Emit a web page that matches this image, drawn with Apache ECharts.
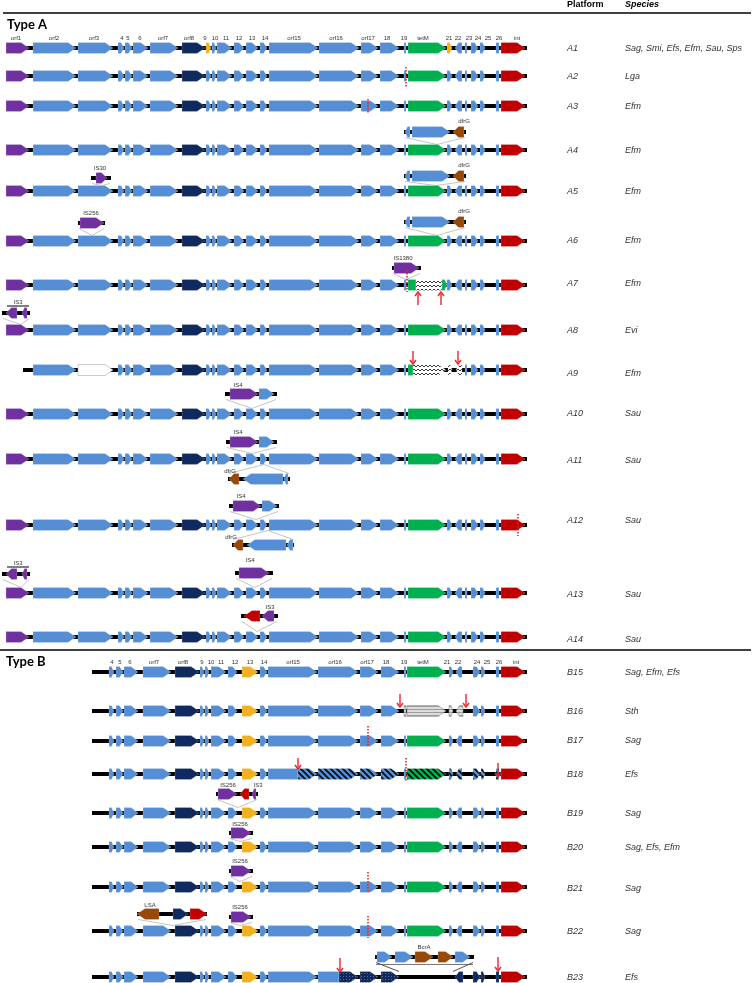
<!DOCTYPE html>
<html><head><meta charset="utf-8">
<script src="https://cdn.jsdelivr.net/npm/echarts@6/dist/echarts.min.js"></script>
<style>html,body{margin:0;padding:0;background:#fff}#c{width:754px;height:983px}</style>
</head><body><div id="c"></div>
<script>
// ---------------- DATA ----------------
const platforms = ['A1','A2','A3','A4','A5','A6','A7','A8','A9','A10','A11','A12','A13','A14',
  'B15','B16','B17','B18','B19','B20','B21','B22','B23'];
const speciesList = ['Sag, Smi, Efs, Efm, Sau, Sps','Lga','Efm','Efm','Efm','Efm','Efm','Evi','Efm','Sau','Sau','Sau','Sau','Sau',
  'Sag, Efm, Efs','Sth','Sag','Efs','Sag','Sag, Efs, Efm','Sag','Sag','Efs'];
const rowLevel   = [48,76,106,150,191,241,285,330,370,414,459,525,593,637,672,711,741,774,813,847,887,931,977];
const labelLevel = [48,76,106,150,191,240,283,330,373,413,460,520,594,639,672,711,740,774,813,847,888,931,977];
const backboneFrom = [6,6,6,6,6,6,6,6,23,6,6,6,6,6,92,92,92,92,92,92,92,92,92];
const backboneTo = 527;

// gene layouts: [name, from, to, fill]  (to < from = reverse strand)
const layoutA = [
  ['orf1',6,29,'purple'],['orf2',33,76,'blue'],['orf3',78,113,'blue'],['4',118,124,'blue'],['5',125,132,'blue'],
  ['6',133,148,'blue'],['orf7',150,178,'blue'],['orf8',182,205,'navy'],['9',206,211,'blue'],['10',212,216,'blue'],
  ['11',217,232,'blue'],['12',234,244,'blue'],['13',246,258,'blue'],['14',260,267,'blue'],['orf15',269,318,'blue'],
  ['orf16',319,359,'blue'],['orf17',361,378,'blue'],['18',380,399,'blue'],['19',404,406,'blue'],['tetM',408,446,'green'],
  ['21',447,452,'blue'],['22',462,455,'blue'],['23',465,467,'blue'],['24',471,478,'blue'],['25',480,485,'blue'],
  ['26',496,499,'blue'],['int',501,525,'red']
];
const layoutB = [
  ['4',109,114,'blue'],['5',116,123,'blue'],['6',124,138,'blue'],['orf7',143,171,'blue'],['orf8',175,199,'navy'],
  ['9',200,204,'blue'],['10',205,209,'blue'],['11',211,226,'blue'],['12',228,237,'blue'],['13',242,258,'orange'],
  ['14',260,267,'blue'],['orf15',268,317,'blue'],['orf16',318,358,'blue'],['orf17',360,378,'blue'],['18',381,399,'blue'],
  ['19',404,406,'blue'],['tetM',407,446,'green'],['21',449,453,'blue'],['22',462,456,'blue'],['24',473,480,'blue'],
  ['25',481,485,'blue'],['26',496,499,'blue'],['int',501,525,'red']
];
const headerLabelsA = [['orf1',16],['orf2',54],['orf3',94],['4',122],['5',128],['6',140],['orf7',163],['orf8',189],['9',205],
  ['10',215],['11',226],['12',239],['13',252],['14',265],['orf15',294],['orf16',336],['orf17',368],['18',387],['19',404],
  ['tetM',423],['21',449],['22',458],['23',469],['24',478],['25',488],['26',499],['int',517]];
const headerLabelsB = [['4',112],['5',120],['6',130],['orf7',154],['orf8',183],['9',202],['10',211],['11',221],['12',235],
  ['13',250],['14',264],['orf15',293],['orf16',335],['orf17',367],['18',386],['19',404],['tetM',423],['21',447],['22',458],
  ['24',477],['25',487],['26',499],['int',516]];

const recolor = { A1: {'9':'orange','21':'orange'} };
// replaced genes: name -> list of [from, to, fill, kind]
const replaced = {
  A7: { tetM: [[408,416,'green','box'],[416,442,'zigzag','box'],[442,447,'green','arrow']] },
  A9: { orf1: [], orf3: [[78,113,'empty','arrow']],
        tetM: [[408,413,'green','box'],[413,446,'zigzag','arrow']],
        '21': [[448,452,'zigzag','arrow']], '22': [[462,456,'zigzag','arrow']] },
  B16: { '19': [[404,406,'grey','box']], tetM: [[407,446,'grey','arrow']],
         '21': [[449,453,'grey','arrow']], '22': [[463,456,'grey','arrow']] },
  B18: { orf15: [[268,298,'blue','box'],[298,317,'hatchBlue','arrow']], orf16: [[318,358,'hatchBlue','arrow']],
         orf17: [[360,378,'hatchBlue','arrow']], '18': [[381,399,'hatchBlue','arrow']], tetM: [[407,446,'hatchGreen','arrow']],
         '21': [[449,453,'hatchBlue','arrow']], '22': [[462,456,'hatchBlue','arrow']], '24': [[473,480,'hatchBlue','arrow']],
         '25': [[481,485,'hatchBlue','arrow']], '26': [[496,499,'hatchBlue','box']] },
  B23: { orf16: [[318,339,'blue','box'],[339,358,'navyDots','arrow']], orf17: [[360,378,'navyDots','arrow']],
         '18': [[381,399,'navyDots','arrow']], '19': [], tetM: [], '21': [],
         '22': [[463,455,'navy','arrow']], '24': [[473,480,'navy','arrow']], '25': [[481,485,'navy','arrow']],
         '26': [[496,499,'navy','box']] }
};

const dfrGGenes = [[410,405,'blue'],[412,450,'blue'],[464,453,'brown']];
const insertions = [
  {row:'A4', level:132, span:[404,466], site:[437], genes:dfrGGenes, labels:[['dfrG',464,-11]]},
  {row:'A5', level:176, span:[404,466], site:[436], genes:dfrGGenes, labels:[['dfrG',464,-11]]},
  {row:'A5', level:178, span:[91,111], site:[102], genes:[[96,107,'purple']], labels:[['IS30',100,-10]]},
  {row:'A6', level:222, span:[404,466], site:[437], genes:dfrGGenes, labels:[['dfrG',464,-11]]},
  {row:'A6', level:223, span:[78,105], site:[92], genes:[[80,104,'purple']], labels:[['IS256',91,-10]]},
  {row:'A7', level:268, span:[392,421], site:[406], genes:[[394,419,'purple']], labels:[['IS1380',403,-10]]},
  {row:'A8', level:313, span:[2,30], site:[21], genes:[[17,6,'purple'],[27,22,'purple']], labels:[['IS3',18,-11]], bar:[7,29]},
  {row:'A10', level:394, span:[225,277], site:[252], genes:[[230,258,'purple'],[259,274,'blue']], labels:[['IS4',238,-9]]},
  {row:'A11', level:442, span:[226,277], site:[252], genes:[[230,258,'purple'],[259,274,'blue']], labels:[['IS4',238,-10]]},
  {row:'A11', level:479, span:[228,290], site:[264], below:true, genes:[[239,229,'brown'],[283,243,'blue'],[288,284,'blue']], labels:[['dfrG',230,-8]]},
  {row:'A12', level:506, span:[229,279], site:[256], genes:[[233,261,'purple'],[262,277,'blue']], labels:[['IS4',241,-10]]},
  {row:'A12', level:545, span:[232,294], site:[268], below:true, genes:[[243,233,'brown'],[286,247,'blue'],[293,287,'blue']], labels:[['dfrG',231,-8]]},
  {row:'A13', level:574, span:[2,30], site:[21], genes:[[17,6,'purple'],[27,22,'purple']], labels:[['IS3',18,-11]], bar:[7,29]},
  {row:'A13', level:573, span:[235,273], site:[255], genes:[[239,269,'purple']], labels:[['IS4',250,-13]]},
  {row:'A14', level:616, span:[241,278], site:[257], genes:[[260,244,'red'],[274,262,'purple']], labels:[['IS3',270,-9]]},
  {row:'B19', level:794, span:[216,258], site:[238], genes:[[218,237,'purple'],[249,240,'red'],[256,252,'purple']], labels:[['IS256',228,-9],['IS3',258,-9]]},
  {row:'B20', level:833, span:[229,253], site:[240], genes:[[231,251,'purple']], labels:[['IS256',240,-9]]},
  {row:'B21', level:871, span:[229,253], site:[240], genes:[[231,251,'purple']], labels:[['IS256',240,-10]]},
  {row:'B22', level:914, span:[137,207], site:[173], genes:[[159,137,'brown'],[173,188,'navy'],[190,207,'red']], labels:[['LSA',150,-9]]},
  {row:'B22', level:917, span:[229,253], site:[240], genes:[[231,251,'purple']], labels:[['IS256',240,-10]]},
  {row:'B23', level:957, span:[375,474], site:[399,453], dark:true, genes:[[377,392,'blue'],[395,413,'blue'],[415,433,'brown'],[438,453,'brown'],[455,470,'blue']], labels:[['BcrA',424,-10]]}
];
// red dotted breakpoints: [x, yTop, yBottom]
const redDotted = [[406,67,87],[368,99,113],[407,270,292],[518,514,536],[368,726,747],[406,758,781],[368,872,893],[368,916,938]];
// red arrows: [x, yTail, yHead]
const redArrows = [[418,305,292],[441,305,292],[413,351,364],[458,351,364],[400,694,707],[466,694,707],
  [298,758,769],[498,763,777],[340,958,972],[498,957,971]];

// ---------------- STYLE ----------------
function pattern(w, h, bg, draw) {
  const c = document.createElement('canvas'); c.width = w; c.height = h;
  const x = c.getContext('2d'); x.fillStyle = bg; x.fillRect(0, 0, w, h); draw(x);
  return { image: c, repeat: 'repeat' };
}
const FILL = {
  blue:'#558ED5', navy:'#0F2A5E', purple:'#7030A0', green:'#00B050', red:'#C00000',
  orange:'#F0B020', brown:'#984807', empty:'#ffffff',
  zigzag: pattern(4, 4, '#ffffff', x => { x.strokeStyle = '#222'; x.lineWidth = 0.9; x.beginPath();
    x.moveTo(0, 3); x.lineTo(2, 1); x.lineTo(4, 3); x.stroke(); }),
  hatchBlue: pattern(6, 6, '#558ED5', x => { x.strokeStyle = '#0a0a0a'; x.lineWidth = 1.7; x.beginPath();
    x.moveTo(0, 0); x.lineTo(6, 6); x.moveTo(-1, 5); x.lineTo(1, 7); x.moveTo(5, -1); x.lineTo(7, 1); x.stroke(); }),
  hatchGreen: pattern(6, 6, '#00B050', x => { x.strokeStyle = '#0a0a0a'; x.lineWidth = 1.7; x.beginPath();
    x.moveTo(0, 0); x.lineTo(6, 6); x.moveTo(-1, 5); x.lineTo(1, 7); x.moveTo(5, -1); x.lineTo(7, 1); x.stroke(); }),
  grey: pattern(3, 3, '#dcdcdc', x => { x.fillStyle = '#9c9c9c'; x.fillRect(0, 1, 3, 1); }),
  navyDots: pattern(3, 3, '#10295A', x => { x.fillStyle = '#4F6E9E'; x.fillRect(1, 1, 1, 1); })
};
const STROKE = { empty:'#aaaaaa', grey:'#8c8c8c' };
const H = 5.5;
const FONT = '"Liberation Sans", Arial, sans-serif';

// ---------------- BUILD MARKS ----------------
const geneMarks = [], bbMarks = [], connMarks = [], textMarks = [];
platforms.forEach((p, i) => {
  const y = rowLevel[i];
  bbMarks.push([backboneFrom[i], backboneTo, y]);
  const base = p[0] === 'A' ? layoutA : layoutB;
  const rc = recolor[p] || {}, rp = replaced[p] || {};
  base.forEach(([gn, from, to, fill]) => {
    if (rp[gn]) { rp[gn].forEach(([f, t, fi, k]) => geneMarks.push({ from: f, to: t, y, fill: fi, kind: k })); return; }
    geneMarks.push({ from, to, y, fill: rc[gn] || fill, kind: Math.abs(to - from) <= 3 ? 'box' : 'arrow' });
  });
  textMarks.push({ t: p, x: 567, y: labelLevel[i], font: 'italic 9px ' + FONT, align: 'left' });
  textMarks.push({ t: speciesList[i], x: 625, y: labelLevel[i], font: 'italic 9px ' + FONT, align: 'left' });
});
insertions.forEach(ins => {
  const ri = platforms.indexOf(ins.row), ry = rowLevel[ri];
  bbMarks.push([ins.span[0], ins.span[1], ins.level]);
  ins.genes.forEach(([f, t, fi]) => geneMarks.push({ from: f, to: t, y: ins.level, fill: fi, kind: Math.abs(t - f) <= 3 ? 'box' : 'arrow' }));
  ins.labels.forEach(([t, x, dy]) => textMarks.push({ t, x, y: ins.level + dy, font: '6px ' + FONT, align: 'center' }));
  connMarks.push({ ins, ry });
});
headerLabelsA.forEach(([t, x]) => textMarks.push({ t, x, y: 38, font: '6px ' + FONT, align: 'center' }));
headerLabelsB.forEach(([t, x]) => textMarks.push({ t, x, y: 662, font: '6px ' + FONT, align: 'center' }));
textMarks.push({ t: 'Type A', x: 7, y: 25, font: 'bold 13px Lato, ' + FONT, align: 'left', color: '#000' });
textMarks.push({ t: 'Type B', x: 6, y: 662, font: 'bold 13px Lato, ' + FONT, align: 'left', color: '#000' });
textMarks.push({ t: 'Platform', x: 567, y: 5, font: 'bold 9px ' + FONT, align: 'left', color: '#000' });
textMarks.push({ t: 'Species', x: 625, y: 5, font: 'bold italic 9px ' + FONT, align: 'left', color: '#000' });

function genePoints(x1, x2, yc, kind) {
  const rev = x2 < x1, a = Math.min(x1, x2), b = Math.max(x1, x2), len = b - a;
  if (kind === 'box' || len < 3.5) return [[a, yc - H], [b, yc - H], [b, yc + H], [a, yc + H]];
  const head = Math.min(8, len * 0.5);
  if (!rev) return [[a, yc - H], [b - head, yc - H], [b, yc], [b - head, yc + H], [a, yc + H]];
  return [[b, yc - H], [a + head, yc - H], [a, yc], [a + head, yc + H], [b, yc + H]];
}

const chart = echarts.init(document.getElementById('c'), null, { renderer: 'canvas' });
const common = { type: 'custom', coordinateSystem: 'cartesian2d', clip: false, progressive: 0, silent: true, animation: false };
chart.setOption({
  animation: false,
  grid: { left: 0, right: 0, top: 0, bottom: 0 },
  xAxis: { type: 'value', min: 0, max: 754, show: false },
  yAxis: { type: 'value', min: 0, max: 983, inverse: true, show: false },
  series: [
    // section rules
    Object.assign({}, common, { data: [[0, 13], [0, 650]], renderItem: (p, api) => {
      const a = api.coord([p.dataIndex === 0 ? 3 : 0, api.value(1)]), b = api.coord([751, api.value(1)]);
      return { type: 'line', shape: { x1: a[0], y1: a[1], x2: b[0], y2: b[1] }, style: { stroke: '#000', lineWidth: 1.6 } };
    } }),
    // connectors
    Object.assign({}, common, { data: connMarks.map(c => [c.ins.span[0], c.ins.level]), renderItem: (p, api) => {
      const { ins, ry } = connMarks[p.dataIndex];
      const col = ins.dark ? '#222' : '#b5b5b5';
      const yI = ins.below ? ins.level - H : ins.level + H;
      const yR = ins.below ? ry + H : ry - H;
      const s0 = ins.site[0], s1 = ins.site[ins.site.length - 1];
      const L0 = api.coord([ins.span[0] + 1, yI]), L1 = api.coord([s0, yR]);
      const R0 = api.coord([ins.span[1] - 1, yI]), R1 = api.coord([s1, yR]);
      const ch = [
        { type: 'line', shape: { x1: L0[0], y1: L0[1], x2: L1[0], y2: L1[1] }, style: { stroke: col, lineWidth: 0.8 } },
        { type: 'line', shape: { x1: R0[0], y1: R0[1], x2: R1[0], y2: R1[1] }, style: { stroke: col, lineWidth: 0.8 } }
      ];
      if (ins.dark) ch.push({ type: 'line', shape: { x1: L0[0], y1: L0[1] + 2, x2: R0[0], y2: R0[1] + 2 }, style: { stroke: '#555', lineWidth: 0.8 } });
      if (ins.bar) {
        const b0 = api.coord([ins.bar[0], ins.level - 7]), b1 = api.coord([ins.bar[1], ins.level - 7]);
        ch.push({ type: 'line', shape: { x1: b0[0], y1: b0[1], x2: b1[0], y2: b1[1] }, style: { stroke: '#000', lineWidth: 1 } });
      }
      return { type: 'group', children: ch };
    } }),
    // backbones
    Object.assign({}, common, { data: bbMarks, renderItem: (p, api) => {
      const a = api.coord([api.value(0), api.value(2)]), b = api.coord([api.value(1), api.value(2)]);
      return { type: 'rect', shape: { x: a[0], y: a[1] - 2, width: b[0] - a[0], height: 4 }, style: { fill: '#000' } };
    } }),
    // genes
    Object.assign({}, common, { data: geneMarks.map(g => [g.from, g.y]), renderItem: (p, api) => {
      const g = geneMarks[p.dataIndex];
      const a = api.coord([g.from, g.y]), b = api.coord([g.to, g.y]);
      return { type: 'polygon', shape: { points: genePoints(a[0], b[0], a[1], g.kind) },
        style: { fill: FILL[g.fill], stroke: STROKE[g.fill] || 'rgba(255,255,255,0.35)', lineWidth: 0.6 } };
    } }),
    // red dotted breakpoints
    Object.assign({}, common, { data: redDotted, renderItem: (p, api) => {
      const a = api.coord([api.value(0), api.value(1)]), b = api.coord([api.value(0), api.value(2)]);
      return { type: 'line', shape: { x1: a[0], y1: a[1], x2: b[0], y2: b[1] }, style: { stroke: '#E8242B', lineWidth: 1.6, lineDash: [1.6, 1.4] } };
    } }),
    // red arrows
    Object.assign({}, common, { data: redArrows, renderItem: (p, api) => {
      const a = api.coord([api.value(0), api.value(1)]), b = api.coord([api.value(0), api.value(2)]);
      const dir = b[1] > a[1] ? 1 : -1;
      return { type: 'group', children: [
        { type: 'line', shape: { x1: a[0], y1: a[1], x2: b[0], y2: b[1] - dir * 2 }, style: { stroke: '#E8242B', lineWidth: 1.4 } },
        { type: 'polyline', shape: { points: [[b[0] - 3, b[1] - dir * 4], [b[0], b[1]], [b[0] + 3, b[1] - dir * 4]] }, style: { stroke: '#E8242B', lineWidth: 1.4, fill: 'none' } }
      ] };
    } }),
    // texts
    Object.assign({}, common, { data: textMarks.map(t => [t.x, t.y]), renderItem: (p, api) => {
      const t = textMarks[p.dataIndex];
      const c = api.coord([t.x, t.y]);
      return { type: 'text', x: c[0], y: c[1], style: { text: t.t, font: t.font, fill: t.color || '#333',
        textAlign: t.align, textVerticalAlign: 'middle' } };
    } })
  ]
});
</script></body></html>
